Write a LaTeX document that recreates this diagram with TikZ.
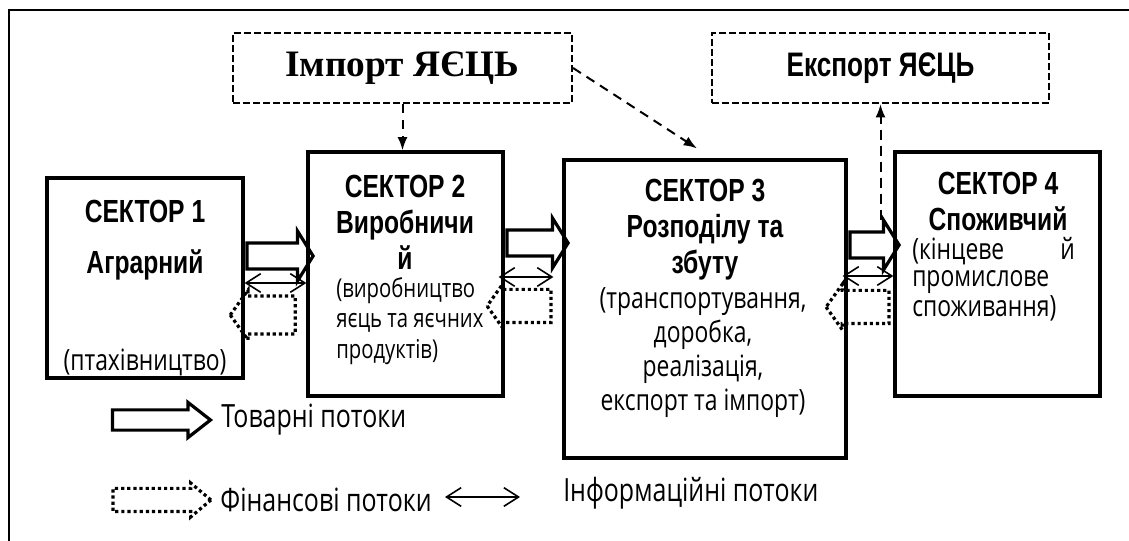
\documentclass[tikz,border=0pt]{standalone}
\usepackage{fontspec}
\setmainfont{Open Sans}[FakeStretch=0.78]
\newfontfamily\sectfont{Liberation Sans}[FakeStretch=0.77]
\newfontfamily\impfont{Liberation Serif}
\usetikzlibrary{shapes.arrows,arrows.meta,positioning}
\tikzset{>=latex}

\begin{document}
\begin{tikzpicture}[x=0.75pt,y=-0.75pt,
    sector/.style={draw,line width=2.4pt,inner sep=0pt},
    tradebox/.style={draw,line width=1.6pt,dash pattern=on 5pt off 2.5pt,inner sep=0pt,minimum height=52.5pt},
    title/.style={inner sep=0pt,align=center,font=\sectfont\bfseries\fontsize{24}{27}\selectfont},
    body/.style={inner sep=0pt,font=\fontsize{22}{24}\selectfont},
    goods/.style={single arrow,draw,line width=2.4pt,inner xsep=0pt,inner ysep=8.6pt,minimum width=0pt,
      single arrow head extend=9pt,single arrow tip angle=116},
    money/.style={single arrow,draw,line width=2.4pt,dash pattern=on 2.4pt off 2.2pt,shape border rotate=180,
      inner xsep=0pt,inner ysep=11.25pt,minimum width=0pt,single arrow head extend=4.5pt,single arrow tip angle=109},
    info/.style={line width=1.2pt,arrows={Straight Barb[length=11pt,width=14pt]-Straight Barb[length=11pt,width=14pt]}},
    flow/.style={line width=1.5pt,dash pattern=on 7pt off 5pt,arrows={-Latex[length=10pt,width=7.5pt]}}]
    \useasboundingbox (0,0) rectangle (1129,541);
    \draw [line width=1.8pt] (1129,10) -- (9,10) -- (9,541);

    \node [tradebox,minimum width=254.25pt] (imp) at (402.5,68) {\impfont\bfseries\fontsize{28}{32}\selectfont Імпорт ЯЄЦЬ};
    \node [tradebox,minimum width=252.75pt] (exp) at (880.5,68) {\sectfont\bfseries\fontsize{25.5}{28}\selectfont Експорт ЯЄЦЬ};

    \node [sector,minimum width=147pt,minimum height=150pt] (s1) at (145,278) {};
    \node [sector,minimum width=146.25pt,minimum height=183pt] (s2) at (405.5,274) {};
    \node [sector,minimum width=211.5pt,minimum height=223.5pt] (s3) at (705,309) {};
    \node [sector,minimum width=153.75pt,minimum height=183pt] (s4) at (997.5,274) {};

    \node [title] (t1) at (145,240) {СЕКТОР 1\\[11pt]Аграрний};
    \node [title] (t2) at (405,222) {СЕКТОР 2\\Виробничи\\й};
    \node [title] (t3) at (705,230) {СЕКТОР 3\\Розподілу та\\збуту};
    \node [title] (t4) at (998,201) {СЕКТОР 4\\Споживчий};

    \node [body] (b1) at (145,362) {(птахівництво)};
    \node [body,align=left,anchor=west,font=\fontsize{19.5}{23}\selectfont] (b2) at (336,321) {(виробництво\\яєць та яєчних\\продуктів)};
    \node [body,align=center,font=\fontsize{22}{25.5}\selectfont] (b3) at (703,353) {(транспортування,\\доробка,\\реалізація,\\експорт та імпорт)};
    \node [body,align=left,anchor=west,font=\fontsize{22}{20.5}\selectfont] (b4) at (912,279) {\hbox to 122pt{(кінцеве\hfill й}\\промислове\\споживання)};

    \node [goods,minimum height=49.5pt] (g12) at (276,256) {};
    \node [goods,minimum height=45.75pt] (g23) at (533.5,243) {};
    \node [goods,minimum height=36.75pt] (g34) at (870.5,245) {};

    \node [money,minimum height=48.75pt,inner ysep=13pt] (m12) at (269.5,315) {};
    \node [money,minimum height=48pt] (m23) at (525,306) {};
    \node [money,minimum height=47.25pt] (m34) at (863.5,307) {};

    \draw [info] ([yshift=-3.75pt]s1.east) -- ([yshift=-6.75pt]s2.west);
    \draw [info] ([xshift=-4.5pt,yshift=-2.25pt]s2.east) -- ([xshift=-6.75pt,yshift=24pt]s3.west);
    \draw [info] ([xshift=-3.75pt,yshift=24.75pt]s3.east) -- ([yshift=-1.5pt]s4.west);

    \draw [flow] (imp.south) -- (imp.south |- s2.north);
    \draw [flow] (imp.east) -- ([xshift=-6pt,yshift=7.5pt]s3.north);
    \draw [flow] ([yshift=8pt]exp.south |- g34.north) -- (exp.south);

    \node [goods,minimum height=73.5pt,inner ysep=6.4pt,single arrow head extend=5.6pt,single arrow tip angle=76] (lg) at (155,420) {};
    \node [body,right=6pt of lg,font=\fontsize{24}{26}\selectfont] (lgt) {Товарні потоки};
    \node [money,shape border rotate=0,minimum height=73.5pt,inner ysep=7.5pt,single arrow head extend=4pt,single arrow tip angle=80] (lm) at (155,500) {};
    \node [body,right=5pt of lm,font=\fontsize{24}{26}\selectfont] (lmt) {Фінансові потоки};
    \coordinate (ia) at (445,497);
    \coordinate (ib) at (520,497);
    \draw [info] (ia) -- (ib);
    \node [body,anchor=west,font=\fontsize{24}{26}\selectfont] (lit) at (563,493) {Інформаційні потоки};
\end{tikzpicture}
\end{document}
